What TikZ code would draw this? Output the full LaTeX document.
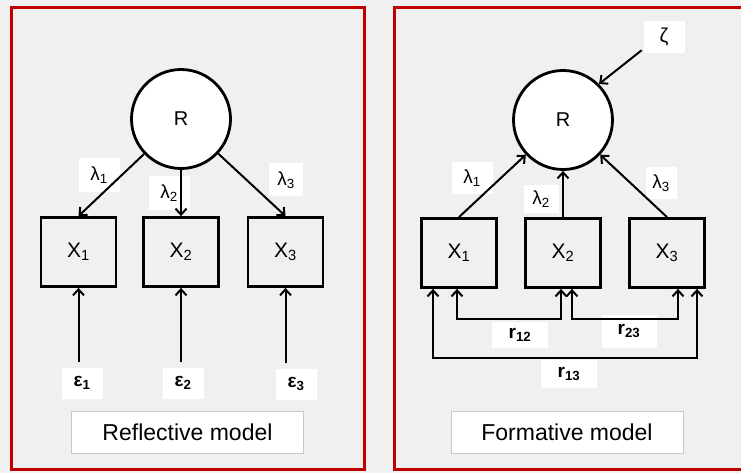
\documentclass[tikz,border=0pt]{standalone}
\usepackage{fontspec}
\setmainfont{Liberation Sans}
\usetikzlibrary{arrows.meta}
\definecolor{bg}{RGB}{240,240,240}
\definecolor{frame}{RGB}{192,0,0}
\definecolor{modelborder}{RGB}{200,200,200}
\tikzset{
  latent/.style={circle, draw=black, fill=white, line width=2.8pt, minimum size=99pt, inner sep=0pt, font=\fontsize{20}{24}\selectfont},
  obs/.style={rectangle, draw=black, line width=2.8pt, minimum width=75pt, minimum height=69pt, inner sep=0pt, font=\fontsize{21}{25}\selectfont},
  lab/.style={rectangle, fill=white, inner sep=0pt, font=\fontsize{19}{22}\selectfont},
  errlab/.style={rectangle, fill=white, inner sep=0pt, minimum width=41pt, minimum height=31pt, font=\bfseries\fontsize{19}{22}\selectfont},
  corlab/.style={rectangle, fill=white, inner sep=0pt, font=\bfseries\fontsize{19}{23}\selectfont},
  modelbox/.style={rectangle, fill=white, draw=modelborder, line width=1pt, minimum width=232pt, minimum height=42pt, inner sep=0pt, font=\fontsize{23}{27}\selectfont},
  arr/.style={line width=2pt, -{Straight Barb[length=6pt,width=11pt,line width=2pt]}},
  dblarr/.style={line width=2pt, {Straight Barb[length=6pt,width=11pt,line width=2pt]}-{Straight Barb[length=6pt,width=11pt,line width=2pt]}},
  panel/.style={draw=frame, line width=3pt}
}
\begin{document}
\begin{tikzpicture}[x=1pt,y=-1pt]
\useasboundingbox[fill=bg] (0,0) rectangle (741,473);
% frames
\draw[panel] (11,8) rectangle (364,469);
\draw[panel] (750,8) -- (394,8) -- (394,469) -- (750,469);

% ---------- Reflective model ----------
\node[latent] (LR) at (181,119) {R};
\node[obs] (LX1) at (78.5,252) {X\textsubscript{1}};
\node[obs] (LX2) at (181,252) {X\textsubscript{2}};
\node[obs] (LX3) at (285.5,252) {X\textsubscript{3}};

\node[lab, minimum width=41pt, minimum height=34pt] (LL1) at (99,175) {λ\textsubscript{1}};
\node[lab, minimum width=41pt, minimum height=33pt] (LL2) at (169,193) {λ\textsubscript{2}};
\node[lab, minimum width=34pt, minimum height=33pt] (LL3) at (286,180) {λ\textsubscript{3}};

\draw[arr] (LR) -- (LX1.north);
\draw[arr] (LR.south) -- (LX2.north);
\draw[arr] (LR) -- (LX3.north);

\node[errlab] (E1) at (82,383) {ε\textsubscript{1}};
\node[errlab] (E2) at (183,383) {ε\textsubscript{2}};
\node[errlab] (E3) at (296,384) {ε\textsubscript{3}};

\draw[arr, shorten <=5pt] (E1.north -| LX1) -- (LX1.south);
\draw[arr, shorten <=5pt] (E2.north -| LX2) -- (LX2.south);
\draw[arr, shorten <=5pt] (E3.north -| LX3) -- (LX3.south);

\node[modelbox] (RM) at (187.5,432) {Reflective model};

% ---------- Formative model ----------
\node[latent] (RR) at (563,120) {R};
\node[obs] (RX1) at (459,253) {X\textsubscript{1}};
\node[obs] (RX2) at (563,253) {X\textsubscript{2}};
\node[obs] (RX3) at (667,253) {X\textsubscript{3}};

\node[lab, minimum width=41pt, minimum height=32pt] (Z) at (664,37) {\fontsize{20}{24}\selectfont ζ};
\draw[arr, shorten <=2pt] (Z.210) -- (RR.45);

\node[lab, minimum width=41pt, minimum height=32pt] (RL1) at (472,178) {λ\textsubscript{1}};
\node[lab, minimum width=35pt, minimum height=28pt] (RL2) at (541,199) {λ\textsubscript{2}};
\node[lab, minimum width=31pt, minimum height=32pt] (RL3) at (661,183) {λ\textsubscript{3}};

\draw[arr] (RX1.north) -- (RR);
\draw[arr] (RX2.north) -- (RR.south);
\draw[arr] (RX3.north) -- (RR);

\node[corlab, minimum width=56pt, minimum height=26pt] (R12) at (520,335) {r\textsubscript{12}};
\node[corlab, minimum width=55pt, minimum height=33pt] (R23) at (629,331) {r\textsubscript{23}};
\node[corlab, minimum width=56pt, minimum height=28pt] (R13) at (569,374) {r\textsubscript{13}};

\draw[dblarr] ([xshift=-2pt]RX1.south) -- ++(0,30) -| ([xshift=-2pt]RX2.south);
\draw[dblarr] ([xshift=9pt]RX2.south) -- ++(0,30) -| ([xshift=11pt]RX3.south);
\draw[dblarr] ([xshift=-26pt]RX1.south) -- ++(0,69) -| ([xshift=30pt]RX3.south);

\node[modelbox] (FM) at (567,432) {Formative model};
\end{tikzpicture}
\end{document}
